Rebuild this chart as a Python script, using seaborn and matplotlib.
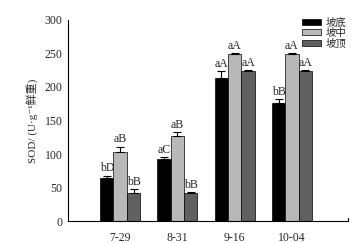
import numpy as np
import pandas as pd
import seaborn as sns
import matplotlib.pyplot as plt

dates = ['7-29', '8-31', '9-16', '10-04']
slopes = ['坡底', '坡中', '坡顶']
bottom = [65, 92, 213, 176]
middle = [103, 127, 249, 249]
top = [42, 42, 224, 224]
err_bottom = [3, 3, 11, 6]
err_middle = [8, 6, 1, 1]
err_top = [6, 1, 1, 1]
lab_bottom = ['bD', 'aC', 'aA', 'bB']
lab_middle = ['aB', 'aB', 'aA', 'aA']
lab_top = ['bB', 'bB', 'aA', 'aA']

df = pd.DataFrame({
    'date': dates * 3,
    'slope': [s for s in slopes for _ in dates],
    'sod': bottom + middle + top,
})
errs = [err_bottom, err_middle, err_top]
labs = [lab_bottom, lab_middle, lab_top]

sns.set_style('white')
plt.rcParams['font.family'] = ['Liberation Serif', 'DejaVu Serif', 'Noto Sans CJK SC']

fig = plt.figure(figsize=(3.64, 2.43), dpi=100)
ax = fig.add_axes([0.187, 0.09, 0.769, 0.828])
sns.barplot(data=df, x='date', y='sod', hue='slope', hue_order=slopes,
            palette=['#000000', '#b8b8b8', '#606060'], width=0.7,
            errorbar=None, edgecolor='black', linewidth=0.5, ax=ax)

n = len(dates)
for i, p in enumerate(ax.patches[:3 * n]):
    s, d = divmod(i, n)
    x = p.get_x() + p.get_width() / 2
    h = p.get_height()
    e = errs[s][d]
    ax.errorbar(x, h, yerr=[[0], [e]], fmt='none', ecolor='black',
                elinewidth=0.8, capsize=3, capthick=0.8)
    ax.text(x, h + e + 2, labs[s][d], ha='center', va='bottom', fontsize=8.5)

ax.set_ylim(0, 300)
ax.set_xlim(-0.91, 3.98)
ax.set_yticks(range(0, 301, 50))
ax.tick_params(axis='y', direction='in', length=3, width=0.8, labelsize=8.5, pad=4)
ax.tick_params(axis='x', length=0, labelsize=8.5, pad=8)
ax.set_xlabel('')
ax.set_ylabel('SOD/ (U·g⁻¹鲜重)', fontsize=8, labelpad=5)
sns.despine(ax=ax)
for sp in ['left', 'bottom']:
    ax.spines[sp].set_color('black')
    ax.spines[sp].set_linewidth(0.8)
ax.plot([3.98, 3.98], [0, 5], color='black', lw=0.8, clip_on=False)

ax.legend(loc='upper right', bbox_to_anchor=(1.0, 1.02), frameon=False,
          handlelength=1.8, handleheight=0.5,
          labelspacing=0.0, handletextpad=0.4, borderaxespad=0.0,
          borderpad=0.2, prop={'family': ['Noto Sans CJK SC'], 'size': 7.5})

fig.savefig('out.png', dpi=100)
